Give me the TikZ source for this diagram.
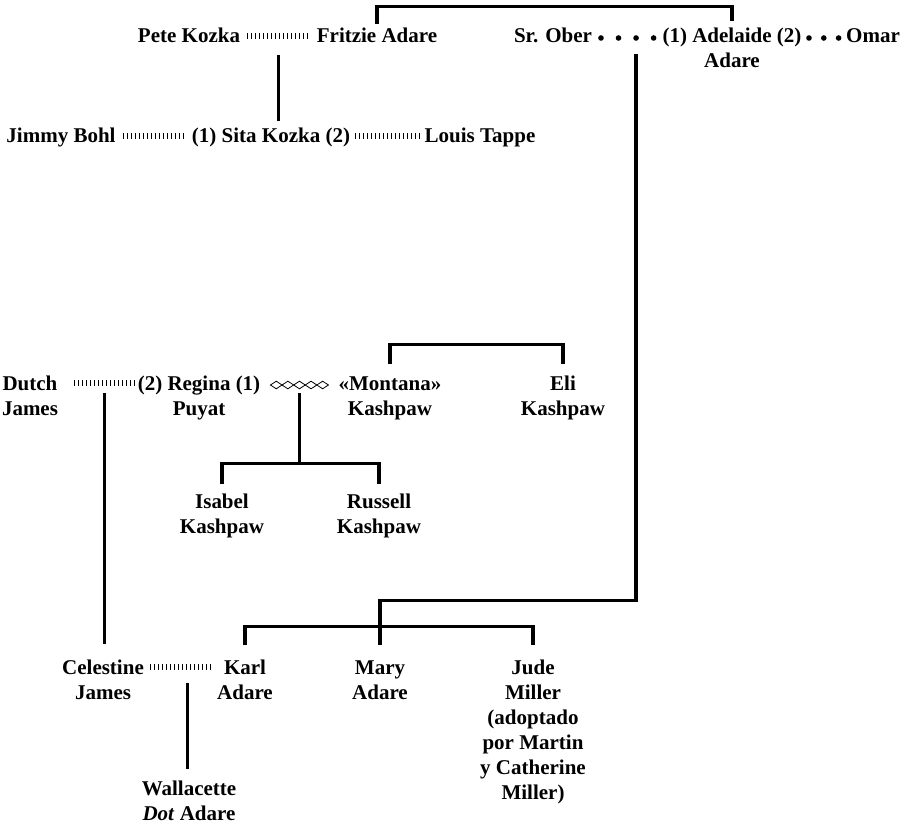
\documentclass[tikz,border=0pt]{standalone}
\usepackage{fontspec}
\setmainfont{Liberation Serif}
\usetikzlibrary{calc}

% nomes em varias linhas, com a base na primeira linha
\newcommand{\nomes}[1]{\begin{tabular}[t]{@{}c@{}}#1\end{tabular}}

\tikzset{
  pessoa/.style={inner sep=0pt, anchor=base,
    font=\bfseries\fontsize{21}{25}\selectfont},
  linha/.style={line width=3.2pt},
  uniao/.style={line width=6.5pt, dash pattern=on 1.2pt off 2.8pt},
  losango/.style={line width=0.8pt},
}

\begin{document}
\begin{tikzpicture}[x=1pt,y=-1pt]
    \useasboundingbox (0,0) rectangle (914,829);
    % pais de sita e de adelaide
    \node[pessoa] (pete) at (189,43) {Pete Kozka};
    \node[pessoa] (fritzie) at (377,43) {Fritzie Adare};
    \node[pessoa] (ober) at (553,43) {Sr. Ober};
    \node[pessoa] (adelaide) at (732,43) {\nomes{(1) Adelaide (2)\\Adare}};
    \node[pessoa] (omar) at (873,43) {Omar};
    % sita e os maridos
    \node[pessoa] (jimmy) at (61,143) {Jimmy Bohl};
    \node[pessoa] (sita) at (271,143) {(1) Sita Kozka (2)};
    \node[pessoa] (louis) at (480,143) {Louis Tappe};
    % regina e os kashpaw
    \node[pessoa] (dutch) at (30,390) {\nomes{Dutch\\James}};
    \node[pessoa] (regina) at (199,390) {\nomes{(2) Regina (1)\\Puyat}};
    \node[pessoa] (montana) at (390,390) {\nomes{«Montana»\\Kashpaw}};
    \node[pessoa] (eli) at (563,390) {\nomes{Eli\\Kashpaw}};
    \node[pessoa] (isabel) at (222,508) {\nomes{Isabel\\Kashpaw}};
    \node[pessoa] (russell) at (379,508) {\nomes{Russell\\Kashpaw}};
    % filhos de adelaide
    \node[pessoa] (celestine) at (103,674) {\nomes{Celestine\\James}};
    \node[pessoa] (karl) at (245,674) {\nomes{Karl\\Adare}};
    \node[pessoa] (mary) at (380,674) {\nomes{Mary\\Adare}};
    \node[pessoa] (jude) at (533,674) {\nomes{Jude\\Miller\\(adoptado\\por Martin\\y Catherine\\Miller)}};
    \node[pessoa] (wallacette) at (189,795) {\nomes{Wallacette\\\textit{Dot} Adare}};

    % unioes com tracinhos
    \draw[uniao] ($(pete.base east)+(7,-7)$) -- ($(fritzie.base west)+(-6,-7)$);
    \coordinate (pf) at ($(pete.base east)!0.5!(fritzie.base west)+(0,-7)$);
    \draw[uniao] ($(jimmy.base east)+(7,-7)$) -- ($(sita.base west)+(-7,-7)$);
    \draw[uniao] ($(sita.base east)+(5,-7)$) -- ($(louis.base west)+(-5,-7)$);
    \draw[uniao] ($(dutch.base east)+(16,-7)$) -- ($(regina.base west)+(-2,-7)$);
    \coordinate (dr) at ($(dutch.base east)!0.5!(regina.base west)+(7,-7)$);
    \draw[uniao] ($(celestine.base east)+(6,-7)$) -- ($(karl.base west)+(-5,-7)$);
    \coordinate (ck) at ($(celestine.base east)!0.6!(karl.base west)+(0,-7)$);
    % unioes com pontos
    \foreach \k in {0,...,3}
        \fill ($(ober.base east)!{(\k+0.5)/4}!(adelaide.base west)+(0,-5)$) circle (2.8pt);
    \coordinate (oa) at ($(ober.base east)!0.625!(adelaide.base west)+(0,-5)$);
    \foreach \k in {0,...,2}
        \fill ($(adelaide.base east)!{(\k+0.5)/3}!(omar.base west)+(0,-5)$) circle (2.8pt);
    % uniao com losangos
    \coordinate (rm) at ($(regina.base east)!0.5!(montana.base west)+(0,-5)$);
    \foreach \k in {-2,...,2}
        \draw[losango] ($(rm)+(11.6*\k,0)$) +(-5.8,0) -- +(0,-3.8) -- +(5.8,0) -- +(0,3.8) -- cycle;

    % ligar fritzie e adelaide
    \draw[linha] ([yshift=4pt]fritzie.north) -- ++(0,-18) -| ([yshift=4pt]adelaide.north);
    % ligar montana e eli
    \draw[linha] ([yshift=8pt]montana.north) -- ++(0,-20) -| ([yshift=8pt]eli.north);
    % descendencia
    \draw[linha] ([yshift=-19pt]pf) -- ([yshift=7pt]pf |- sita.north);
    \draw[linha] ([yshift=-10pt]dr) -- ([yshift=12pt]dr |- celestine.north);
    \draw[linha] ([yshift=-8pt]rm) -- ([yshift=27pt]rm |- isabel.north);
    \draw[linha] ([yshift=6pt]isabel.north) -- ++(0,-21) -| ([yshift=6pt]russell.north);
    \draw[linha] ([yshift=-16pt]oa) |- ([yshift=56pt]mary.north) -- ([yshift=11pt]mary.north);
    \draw[linha] ([yshift=11pt]karl.north) -- ++(0,-19) -| ([yshift=11pt]jude.north);
    \draw[linha] ([yshift=-16pt]ck) -- ([yshift=8pt]ck |- wallacette.north);
\end{tikzpicture}
\end{document}
